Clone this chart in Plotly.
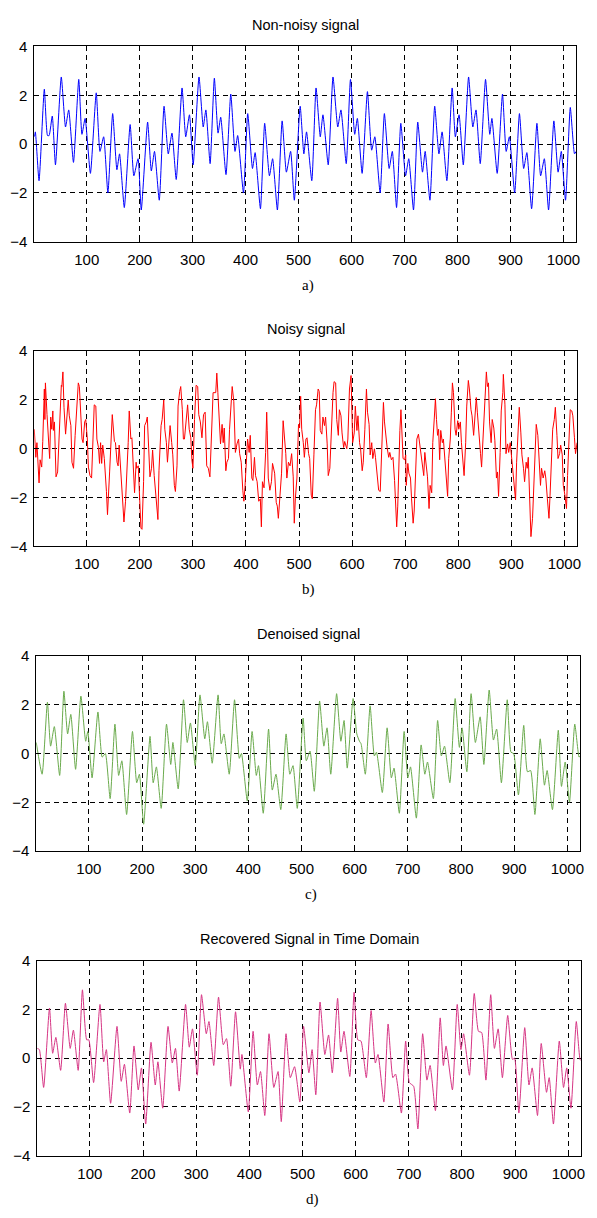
import plotly.graph_objects as go

W, H = 597, 1218

x_ticks = [100, 200, 300, 400, 500, 600, 700, 800, 900, 1000]
y_ticks = [-4, -2, 0, 2, 4]
titles = ["Non-noisy signal", "Noisy signal", "Denoised signal", "Recovered Signal in Time Domain"]
sublabels = ["a)", "b)", "c)", "d)"]
colors = ["#0000ff", "#ff0000", "#6aaa4c", "#d63584"]

# (sample index, value)
blue_pts = [(1,0.3),(3,0.5),(10,-1.5),(20,2.25),(26,0.35),(29,0.35),(35,1.15),(41,-0.85),(52,2.75),(60,0.7),(66,1.4),(75,-0.75),(85,2.65),(91,0.4),(97,1.05),(107,-1.2),(118,2.1),(125,-0.3),(132,0.3),(140,-2.0),(149,1.25),(157,-1.05),(162,-0.4),(171,-2.6),(182,0.8),(189,-1.3),(197,-0.6),(203,-2.7),(215,0.9),(222,-1.1),(228,-0.3),(237,-2.3),(246,1.55),(254,-0.4),(261,0.45),(269,-1.45),(280,2.3),(287,0.3),(294,1.2),(301,-0.85),(312,2.75),(320,0.7),(325,1.4),(333,-0.8),(341,2.7),
            (348,0.45),(353,1.1),(363,-1.25),(372,2.05),(380,-0.3),(385,0.35),(396,-2.0),(404,1.25),(413,-1.0),(418,-0.35),(428,-2.65),(436,0.85),(445,-1.3),(451,-0.6),(460,-2.7),(469,0.95),(477,-1.15),(485,-0.3),(492,-2.3),(503,1.55),(510,-0.4),(515,0.5),(525,-1.5),(533,2.3),(541,0.3),(546,1.2),(556,-0.85),(565,2.75),(574,0.7),(580,1.4),(590,-0.8),(598,2.65),(606,0.4),(611,1.05),(620,-1.2),(630,2.15),(638,-0.25),(644,0.3),(654,-2.0),(662,1.25),(671,-1.0),(677,-0.3),
            (685,-2.6),(693,0.85),(702,-1.3),(708,-0.6),(717,-2.7),(725,0.9),(734,-1.15),(739,-0.3),(748,-2.3),(757,1.55),(765,-0.4),(771,0.5),(780,-1.5),(790,2.3),(796,0.3),(803,1.2),(811,-0.85),(821,2.75),(829,0.7),(835,1.4),(843,-0.8),(853,2.65),(861,0.4),(865,1.05),(875,-1.2),(885,2.05),(892,-0.3),(898,0.3),(908,-2.0),(917,1.25),(925,-1.0),(931,-0.35),(940,-2.65),(950,0.85),(957,-1.3),(964,-0.6),(972,-2.7),(982,0.95),(990,-1.15),(996,-0.3),(1004,-2.3),(1013,1.5),(1021,-0.4),(1024,-0.3)]

red_pts = [(1,0.8),(4,-0.35),(6,0.25),(10,-1.4),(12,-0.45),(15,-0.75),(17,0.3),(20,2.45),(21,1.2),(22,2.7),(25,1.4),(27,0.4),(30,-0.4),(32,1.3),(34,0.8),(36,1.55),(37,0.75),(39,1.1),(42,-1.15),(45,-0.95),(48,0.55),(52,2.6),(53,2.55),(55,3.15),(57,1.7),(60,0.6),(62,1.1),(65,2.0),(67,1.35),(70,0.95),(72,-0.55),(75,-0.8),(78,0.55),(82,1.95),(84,2.7),(86,2.55),(88,1.8),(91,0.4),(93,0.25),(96,1.1),(98,1.2),(101,0.4),(103,-0.75),(106,-1.1),(109,-1.2),(112,0.75),(114,1.8),(117,1.75),(119,0.4),(122,0.05),(124,-0.6),(126,0.25),(128,-0.6),(130,0.15),(133,-0.4),(137,-1.75),(139,-2.7),(143,-0.95),(146,0.8),(148,1.4),(152,0.3),(154,0.25),(157,-0.55),(159,-0.7),(161,0.15),(164,-1.0),(168,-2.3),(170,-3.0),(173,-2.15),(175,-1.35),(178,0.25),(180,1.55),(181,1.0),(183,0.4),(185,0.45),(188,-0.95),(190,-1.8),(193,-0.55),(194,-0.8),(197,-0.7),(199,-2.05),(202,-3.25),(204,-3.3),(207,-1.35),(209,0.95),(212,1.1),(214,1.3),(217,-0.15),(219,-1.15),(222,-0.8),(224,-0.05),(227,-1.1),(230,-2.05),(234,-2.9),(236,-0.9),(240,0.95),(242,1.2),(245,2.0),(247,0.8),(250,0.25),(252,-0.55),(255,0.2),(257,0.95),(260,0.25),(262,-0.25),(265,-1.5),(267,-1.75),(270,-0.7),(272,1.75),(275,2.35),(277,2.55),(280,1.6),(282,0.4),(284,0.4),(288,1.6),(290,1.8),(293,0.8),(296,0.45),(298,-0.45),(300,-0.8),(303,1.2),(306,2.6),(309,2.55),(311,1.4),(314,1.1),(317,0.45),(320,1.4),(323,1.5),(326,-0.7),(329,-0.8),(332,-1.15),(335,0.45),(338,2.3),
           (343,2.3),(345,3.1),(347,2.3),(350,0.8),(352,0.2),(355,1.0),(357,0.25),(359,0.85),(362,-0.9),(364,-0.55),(367,-0.4),(369,0.8),(372,1.9),(374,2.55),(377,1.95),(380,-0.15),(383,0.2),(386,0.4),(388,-0.2),(391,-0.55),(394,-1.7),(396,-2.15),(398,-1.6),(401,-0.55),(403,0.4),(406,-0.15),(408,0.55),(411,-1.2),(413,-1.3),(416,-0.35),(418,-1.1),(421,-1.35),(424,-2.15),(427,-2.05),(429,-3.2),(431,-1.35),(434,-1.6),(437,-0.15),(439,1.5),(440,0.75),(442,-1.2),(445,-1.7),(448,-1.35),(450,-0.6),(454,-1.0),(457,-2.2),(459,-2.35),(461,-2.85),(464,-2.05),(467,-1.0),(470,1.15),(472,0.6),(475,-0.2),(477,-1.2),(480,-0.55),(483,-0.7),(486,-0.2),(489,-1.15),(491,-3.05),(493,-2.05),(496,-1.2),(499,1.0),(501,0.85),(503,2.15),(505,0.8),(508,0.25),(510,-0.35),(513,0.4),(515,0.45),(518,-0.2),(520,-0.4),(523,-1.9),(525,-2.05),(528,-0.25),(531,1.6),(533,1.8),(536,2.45),(538,2.35),(540,0.75),(543,0.6),(545,1.3),(548,0.95),(550,1.3),(553,0.2),(555,-1.1),(558,-0.8),(561,1.2),(564,2.3),(566,2.75),(569,2.7),(571,1.2),(574,0.55),(576,1.6),(579,1.35),(581,0.65),(584,0.05),(586,0.3),(590,0.0),(592,0.4),(595,2.45),(598,3.0),(599,2.0),(601,0.25),(604,0.65),(606,1.75),(609,0.75),(611,1.35),(614,0.25),(616,0.0),(619,-0.9),(621,-0.55),(624,0.8),(627,2.45),(629,1.5),(632,1.0),(634,-0.25),(637,0.25),(639,-0.4),(642,0.0),(644,-0.35),(647,-1.2),(650,-1.7),(653,-1.75),(656,0.25),(659,1.9),(661,1.1),(664,0.25),(666,0.05),(669,-0.35),(671,-0.15),(674,-0.45),(677,-0.35),(680,-1.3),(682,-2.55),
           (684,-3.2),(686,-2.35),(688,-0.15),(690,0.75),(692,1.6),(694,0.8),(696,-0.4),(699,-0.45),(701,-0.25),(702,-1.5),(705,-0.6),(707,-1.0),(710,-1.2),(712,-2.05),(715,-3.05),(717,-2.55),(720,-0.35),(722,0.4),(725,0.6),(727,0.25),(730,-0.4),(732,-0.7),(735,-1.1),(737,-0.15),(740,-0.7),(742,-1.15),(745,-2.45),(747,-1.5),(750,-1.8),(752,0.25),(755,1.3),(757,2.05),(759,1.2),(761,0.55),(763,0.8),(765,-0.45),(767,0.75),(770,0.25),(772,0.4),(775,-0.55),(778,-1.1),(780,-1.95),(782,-0.4),(785,0.4),(787,1.5),(789,2.7),(791,2.3),(794,0.8),(796,0.55),(799,1.15),(801,0.8),(804,1.1),(806,0.25),(809,-0.45),(811,-1.1),(814,0.25),(816,1.75),(819,2.8),(821,2.45),(824,1.6),(826,1.35),(829,0.55),(831,1.2),(834,2.1),(836,1.5),(839,0.4),(842,-0.2),(844,-0.75),(846,0.25),(849,1.5),(851,2.55),(853,3.15),(855,2.55),(857,2.7),(859,1.1),(862,0.25),(864,1.2),(867,0.85),(869,0.35),(872,-1.2),(874,-0.95),(876,-1.95),(879,-0.15),(881,1.55),(884,2.3),(885,3.05),(888,1.8),(890,-0.2),(893,0.2),(895,-0.15),(898,0.25),(900,-0.25),(903,-1.1),(905,-1.5),(908,-2.1),(910,-0.55),(913,1.15),(915,1.7),(918,0.65),(920,-0.25),(923,-0.8),(925,-1.35),(928,-0.55),(930,-0.8),(932,-0.35),(935,-1.9),(937,-3.6),(940,-2.85),(942,-1.75),(945,-0.25),(947,1.0),(950,0.55),(952,-0.45),(955,-1.5),(957,-0.8),(960,-1.2),(963,-0.9),(965,-1.2),(968,-2.05),(971,-2.85),(973,-1.9),(976,-0.4),(978,0.8),(981,1.2),(983,1.7),(986,0.55),(988,-0.4),(991,-0.2),(993,0.15),(996,-0.25),(998,-1.5),(1001,-1.9),(1004,-2.45),(1006,-1.1),(1009,0.25),(1011,1.6),(1014,1.55),(1016,1.35),(1019,0.45),(1021,-0.2),(1024,0.25)]

green_pts = [(1,0.45),(12,-0.85),(22,2.1),(28,0.3),(35,1.1),(45,-0.9),(53,2.55),(60,0.8),(66,1.6),(75,-0.65),(85,2.35),(94,0.5),(98,0.9),(106,-1.0),(117,1.7),(125,-0.15),(131,0.0),(140,-1.85),(149,1.2),(156,-0.9),(162,-0.3),(171,-2.5),(182,0.9),(190,-1.2),(195,-0.85),(203,-2.9),(215,0.7),(221,-1.2),(227,-0.55),(236,-2.25),(246,1.2),(254,-0.45),(258,0.45),(268,-1.45),(278,2.2),(285,0.45),(291,1.25),(300,-0.5),(309,2.4),(318,0.6),(323,1.3),(332,-0.4),
             (343,2.4),(349,0.4),(354,0.8),(364,-0.85),(374,2.2),(383,-0.2),(387,0.0),(398,-1.95),(407,0.9),(415,-0.9),(419,-0.5),(428,-2.45),(438,1.0),(445,-1.5),(452,-0.85),(461,-2.3),(471,0.8),(478,-0.85),(484,-0.5),(492,-2.25),(503,1.45),(509,-0.3),(516,0.1),(524,-1.55),(534,2.15),(542,0.3),(548,1.05),(555,-0.85),(566,2.45),(574,0.5),(580,1.35),(586,-0.6),(597,2.25),(604,0.8),(609,0.5),(612,0.4),(620,-0.85),(629,1.95),(637,-0.1),(641,0.05),(652,-1.6),(661,1.05),(669,-1.0),(674,-0.6),
             (684,-2.45),(693,0.9),(700,-1.0),(705,-0.55),(716,-2.65),(725,0.35),(732,-0.85),(737,-0.35),(748,-1.85),(756,1.35),(763,-0.1),(769,0.3),(779,-1.2),(789,2.25),(797,0.25),(802,1.05),(811,-0.75),(819,2.45),(827,0.45),(836,1.5),(843,-0.45),(853,2.6),(861,0.55),(867,1.0),(876,-1.2),(887,2.2),(894,0.05),(899,0.0),(908,-1.7),(918,1.15),(925,-0.75),(931,-0.7),(939,-2.5),(949,0.6),(957,-1.3),(962,-0.7),(972,-2.3),(983,0.95),(989,-1.35),(996,-0.35),(1004,-2.0),(1014,1.2),(1022,-0.15),(1024,-0.1)]

pink_pts = [(1,0.4),(5,0.35),(13,-1.2),(24,2.05),(30,0.2),(36,0.85),(45,-0.5),(54,2.25),(63,0.4),(69,1.15),(78,-0.5),(86,2.8),(94,0.75),(98,0.75),(107,-1.0),(119,2.2),(126,-0.15),(131,0.35),(139,-1.85),(151,1.3),(159,-0.95),(165,-0.25),(175,-2.25),(183,0.5),(191,-1.3),(197,-0.4),(205,-2.7),(215,0.65),(223,-1.1),(228,-0.15),(237,-2.05),(247,1.3),(255,-0.2),(261,0.4),(268,-1.35),(280,2.2),(287,0.45),(293,1.2),(302,-0.7),(310,2.6),(319,1.0),(324,1.5),(333,-0.3),
            (342,2.5),(351,0.55),(357,0.8),(365,-1.15),(374,1.9),(383,-0.45),(386,0.15),(398,-2.2),(407,1.1),(415,-1.1),(421,-0.55),(429,-2.35),(437,1.0),(446,-1.2),(454,-0.55),(460,-2.6),(469,1.0),(477,-0.8),(485,-0.35),(495,-1.8),(502,1.3),(512,-0.6),(518,0.35),(525,-1.5),(533,2.3),(542,0.15),(549,0.95),(556,-0.6),(566,2.45),(572,0.25),(578,1.1),(589,-0.75),(597,2.7),(604,0.75),(610,0.7),(620,-0.8),(629,1.95),(637,-0.2),(642,0.15),(653,-1.8),(661,1.4),(670,-0.8),(675,-0.65),
            (686,-2.25),(694,0.7),(701,-1.0),(709,-1.15),(717,-2.9),(726,1.0),(734,-0.9),(740,-0.3),(750,-2.15),(759,1.65),(765,-0.3),(770,0.5),(782,-1.3),(791,2.2),(798,0.35),(803,1.0),(814,-0.7),(823,2.65),(831,1.1),(837,1.05),(845,-0.9),(854,2.6),(861,0.4),(868,1.2),(876,-0.8),(886,1.75),(895,-0.05),(899,0.0),(907,-2.25),(918,1.25),(926,-1.1),(932,-0.4),(942,-2.35),(949,0.6),(959,-1.4),(964,-0.8),(972,-2.7),(983,0.7),(991,-1.2),(997,-0.4),(1005,-2.05),(1015,1.5),(1022,-0.05),(1024,-0.1)]

series = [blue_pts, red_pts, green_pts, pink_pts]
shapes_line = ["spline", "linear", "spline", "spline"]

# panel pixel boxes (left, right, top, bottom)
boxes = [(34.5, 580, 38, 236), (34.5, 581, 347, 545), (36.5, 584, 656, 854), (37.5, 585, 965, 1163)]

fig = go.Figure()
ann = []
for i, (pts, col, box) in enumerate(zip(series, colors, boxes)):
    xs = [p[0] for p in pts]
    ys = [p[1] for p in pts]
    n = "" if i == 0 else str(i + 1)
    fig.add_trace(go.Scatter(x=xs, y=ys, mode="lines",
                             line=dict(color=col, width=1, shape=shapes_line[i], smoothing=0.5),
                             xaxis="x" + n, yaxis="y" + n, showlegend=False, hoverinfo="skip"))
    l, r, t, b = box
    axcommon = dict(showline=True, linecolor="black", linewidth=1, mirror=True,
                    ticks="inside", ticklen=4, tickcolor="black",
                    showgrid=True, gridcolor="black", gridwidth=1, griddash="5px,4px",
                    zeroline=False, tickfont=dict(family="Liberation Sans, Arial", size=15, color="black"))
    fig.update_layout(**{
        "xaxis" + n: dict(domain=[l / W, r / W], range=[1, 1024], tickvals=x_ticks,
                          anchor="y" + n, ticklabelstandoff=4, **axcommon),
        "yaxis" + n: dict(domain=[1 - b / H, 1 - t / H], range=[-4, 4], tickvals=y_ticks,
                          anchor="x" + n, ticklabelstandoff=3, **axcommon),
    })
    cx = (l + r) / 2 / W
    ann.append(dict(text=titles[i], x=cx, y=1 - (t - 22) / H, xref="paper", yref="paper",
                    showarrow=False, xanchor="center", yanchor="middle",
                    font=dict(family="Liberation Sans, Arial", size=14.5, color="black")))
    ann.append(dict(text=sublabels[i], x=cx + 0.005, y=1 - (b + 44) / H, xref="paper", yref="paper",
                    showarrow=False, xanchor="center", yanchor="middle",
                    font=dict(family="Liberation Serif, Times New Roman", size=15, color="black")))

fig.update_layout(width=W, height=H, margin=dict(l=0, r=0, t=0, b=0),
                  paper_bgcolor="white", plot_bgcolor="white", annotations=ann)
fig.write_html("out.html", config={"displayModeBar": False},
               post_script="document.body.style.margin='0px';document.body.style.overflow='hidden';")
